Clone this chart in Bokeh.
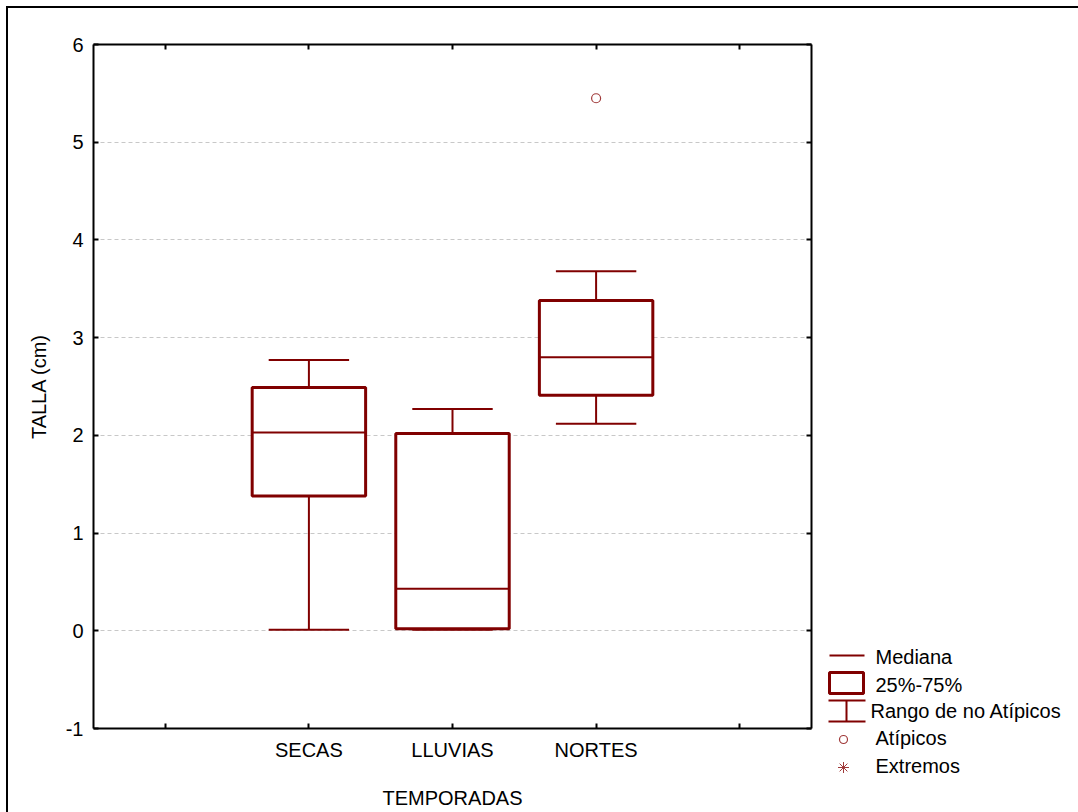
from bokeh.plotting import figure
from bokeh.models import Range1d, FixedTicker, LinearAxis
from bokeh.layouts import row
from bokeh.embed import file_html
from bokeh.resources import INLINE
from bokeh.core.properties import value

# ---------------- data ----------------
categories = ["SECAS", "LLUVIAS", "NORTES"]
whisker_low = [0.01, 0.01, 2.12]
q1 = [1.38, 0.02, 2.41]
median = [2.03, 0.43, 2.80]
q3 = [2.49, 2.02, 3.38]
whisker_high = [2.77, 2.27, 3.68]
outlier_cat = ["NORTES"]
outlier_val = [5.45]
y_ticks = [-1, 0, 1, 2, 3, 4, 5, 6]
grid_ticks = [0, 1, 2, 3, 4, 5]
x_slots = [1, 2, 3, 4, 5]
legend_labels = ["Mediana", "25%-75%", "Rango de no Atípicos", "Atípicos", "Extremos"]

# ---------------- style ----------------
FONT = "Liberation Sans"
FS = "20px"
DARK = "#800000"
LIGHT = "#a03a3a"
BOX_HALF = 0.395
CAP_HALF = 0.28

pos = [categories.index(c) + 2 for c in categories]
out_pos = [categories.index(c) + 2 for c in outlier_cat]

p = figure(width=810, height=804, x_range=Range1d(0.5, 5.5), y_range=Range1d(-1, 6),
           output_backend="svg", toolbar_location=None,
           min_border_left=85, min_border_right=7, min_border_top=36, min_border_bottom=84,
           x_axis_label="TEMPORADAS", y_axis_label="TALLA (cm)")
p.outline_line_color = None
p.background_fill_color = "white"
p.border_fill_color = "white"
p.xgrid.visible = False
p.ygrid.ticker = FixedTicker(ticks=grid_ticks)
p.ygrid.grid_line_color = "#c8c8c8"
p.ygrid.grid_line_dash = "4 3"
p.ygrid.grid_line_width = 1


def style_axis(ax, ticks, labels=None):
    ax.ticker = FixedTicker(ticks=ticks)
    ax.axis_line_width = 2
    ax.axis_line_color = "black"
    ax.major_tick_in = 5
    ax.major_tick_out = 0
    ax.major_tick_line_width = 2
    ax.major_tick_line_color = "black"
    ax.minor_tick_line_color = None
    ax.major_label_text_font = FONT
    ax.major_label_text_font_size = FS
    ax.major_label_text_color = "black"
    ax.axis_label_text_font = FONT
    ax.axis_label_text_font_size = FS
    ax.axis_label_text_font_style = "normal"
    ax.axis_label_text_color = "black"
    if labels is None:
        ax.major_label_overrides = {t: "" for t in ticks}
        ax.major_label_standoff = 0
    else:
        ax.major_label_overrides = labels


xlab = {s: "" for s in x_slots}
for c, xp in zip(categories, pos):
    xlab[xp] = c
xa = p.xaxis[0]
style_axis(xa, x_slots, xlab)
xa.major_label_standoff = 10
xa.axis_label_standoff = 23

ya = p.yaxis[0]
style_axis(ya, y_ticks, {t: str(t) for t in y_ticks})
ya.major_label_standoff = 10
ya.axis_label_standoff = 13

top = LinearAxis()
style_axis(top, x_slots)
p.add_layout(top, "above")
right = LinearAxis()
style_axis(right, y_ticks)
p.add_layout(right, "right")

# whiskers
p.segment(x0=pos, y0=q3, x1=pos, y1=whisker_high, line_color=DARK, line_width=2)
p.segment(x0=pos, y0=q1, x1=pos, y1=whisker_low, line_color=DARK, line_width=2)
p.segment(x0=[x - CAP_HALF for x in pos], y0=whisker_high, x1=[x + CAP_HALF for x in pos], y1=whisker_high,
          line_color=DARK, line_width=2)
p.segment(x0=[x - CAP_HALF for x in pos], y0=whisker_low, x1=[x + CAP_HALF for x in pos], y1=whisker_low,
          line_color=DARK, line_width=2)
# boxes
p.quad(left=[x - BOX_HALF for x in pos], right=[x + BOX_HALF for x in pos], bottom=q1, top=q3,
       fill_color="white", line_color=DARK, line_width=3)
# medians
p.segment(x0=[x - BOX_HALF for x in pos], y0=median, x1=[x + BOX_HALF for x in pos], y1=median,
          line_color=DARK, line_width=2)
# outliers
p.scatter(x=out_pos, y=outlier_val, marker="circle", size=9, fill_color=None,
          line_color=LIGHT, line_width=1.2)

# ---------------- legend panel (coordinates = page pixels) ----------------
leg = figure(frame_width=260, frame_height=804, x_range=Range1d(818, 1078), y_range=Range1d(812, 8),
             output_backend="svg", toolbar_location=None, min_border=0,
             x_axis_location=None, y_axis_location=None)
if "frame_align" in leg.properties():
    leg.frame_align = False
leg.outline_line_color = None
leg.grid.visible = False
leg.background_fill_color = "white"
leg.border_fill_color = "white"

leg.segment(x0=[829], y0=[655], x1=[864], y1=[655], line_color=DARK, line_width=2)
leg.quad(left=[829], right=[863], top=[672], bottom=[693], fill_color="white", line_color=DARK, line_width=3)
leg.segment(x0=[828, 828, 846], y0=[700, 721, 700], x1=[865, 865, 846], y1=[700, 721, 721],
            line_color=DARK, line_width=2)
leg.scatter(x=[843], y=[739], marker="circle", size=8, fill_color=None, line_color=LIGHT, line_width=1.2)
leg.scatter(x=[843], y=[767], marker="asterisk", size=11, line_color=LIGHT, line_width=1)
leg.text(x=[875, 875, 870, 875, 875], y=[656, 684, 710, 737.5, 765.5], text=legend_labels,
         text_font=value(FONT), text_font_size=FS, text_color="black",
         text_align="left", text_baseline="middle")

layout = row(p, leg, styles={"margin-left": "6px", "margin-top": "6px",
                             "border-left": "2px solid black", "border-top": "2px solid black"})

open("out.html", "w").write(file_html(layout, INLINE))
